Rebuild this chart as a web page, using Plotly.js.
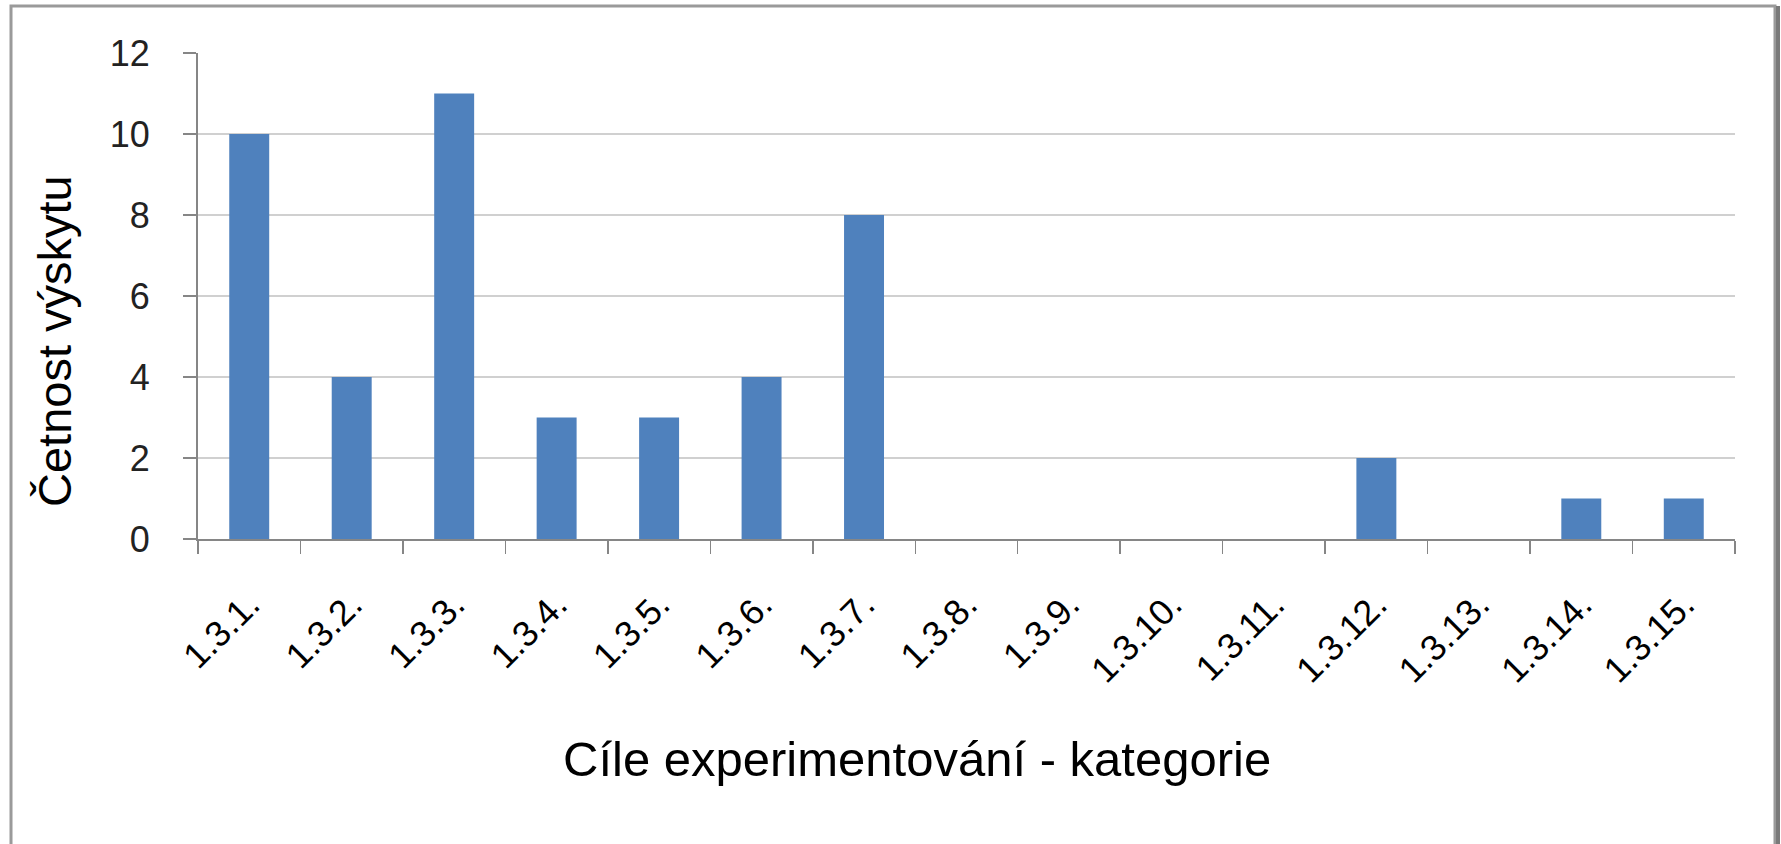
<!DOCTYPE html>
<html>
<head>
<meta charset="utf-8">
<script src="https://cdn.plot.ly/plotly-3.0.1.min.js"></script>
<style>
  html, body { margin: 0; padding: 0; background: #ffffff; }
  #chart { width: 1781px; height: 844px; }
</style>
</head>
<body>
<div id="chart"></div>
<script>
const categories = ["1.3.1.", "1.3.2.", "1.3.3.", "1.3.4.", "1.3.5.", "1.3.6.", "1.3.7.", "1.3.8.",
                    "1.3.9.", "1.3.10.", "1.3.11.", "1.3.12.", "1.3.13.", "1.3.14.", "1.3.15."];
const counts = [10, 4, 11, 3, 3, 4, 8, 0, 0, 0, 0, 2, 0, 1, 1];
const yTicks = [0, 2, 4, 6, 8, 10, 12];
const xTitle = "Cíle experimentování - kategorie";
const yTitle = "Četnost výskytu";

const W = 1781, H = 844;
const mL = 198, mR = 46, mT = 53, mB = 305;
const pw = W - mL - mR, ph = H - mT - mB;
const px = v => (v - mL) / pw;
const py = v => (H - mB - v) / ph;

const FONT = "Liberation Sans, Arial, sans-serif";

const data = [{
  type: "bar",
  x: categories,
  y: counts,
  marker: { color: "#4F81BD", line: { width: 0 } },
  hoverinfo: "x+y"
}];

const layout = {
  width: W, height: H,
  margin: { l: mL, r: mR, t: mT, b: mB, pad: 0 },
  paper_bgcolor: "#ffffff",
  plot_bgcolor: "#ffffff",
  showlegend: false,
  bargap: 0.61,
  font: { family: FONT, color: "#000000" },
  xaxis: {
    type: "category",
    categoryorder: "array",
    categoryarray: categories,
    tickangle: -45,
    tickson: "boundaries",
    ticks: "outside",
    ticklen: 13,
    tickwidth: 1.5,
    tickcolor: "#868686",
    showline: true,
    linecolor: "#868686",
    linewidth: 2,
    showgrid: false,
    zeroline: false,
    ticklabelstandoff: 28,
    tickfont: { family: FONT, size: 36, color: "#000000" }
  },
  yaxis: {
    range: [0, 12],
    tickmode: "array",
    tickvals: yTicks,
    ticktext: yTicks.map(String),
    ticks: "outside",
    ticklen: 13,
    tickwidth: 1.5,
    tickcolor: "#868686",
    showline: true,
    linecolor: "#868686",
    linewidth: 2,
    showgrid: true,
    gridcolor: "#D0D0D0",
    gridwidth: 2,
    zeroline: false,
    ticklabelstandoff: 26,
    tickfont: { family: FONT, size: 36, color: "#222222" }
  },
  annotations: [
    {
      text: xTitle, showarrow: false,
      xref: "paper", yref: "paper",
      x: px(917), y: py(759),
      xanchor: "center", yanchor: "middle",
      font: { family: FONT, size: 49, color: "#000000" }
    },
    {
      text: yTitle, showarrow: false, textangle: -90,
      xref: "paper", yref: "paper",
      x: px(54), y: py(341),
      xanchor: "center", yanchor: "middle",
      font: { family: FONT, size: 47, color: "#000000" }
    }
  ],
  shapes: [
    {
      type: "rect", xref: "paper", yref: "paper", layer: "below",
      x0: px(11), x1: px(1775), y0: py(H + 20), y1: py(6),
      line: { color: "#9A9A9A", width: 3 },
      fillcolor: "rgba(0,0,0,0)"
    },
    {
      type: "line", xref: "paper", yref: "paper", layer: "below",
      x0: px(1778), x1: px(1778), y0: py(H + 20), y1: py(6),
      line: { color: "#7A7A7A", width: 4 }
    }
  ]
};

Plotly.newPlot("chart", data, layout, { displayModeBar: false, staticPlot: true });
</script>
</body>
</html>
